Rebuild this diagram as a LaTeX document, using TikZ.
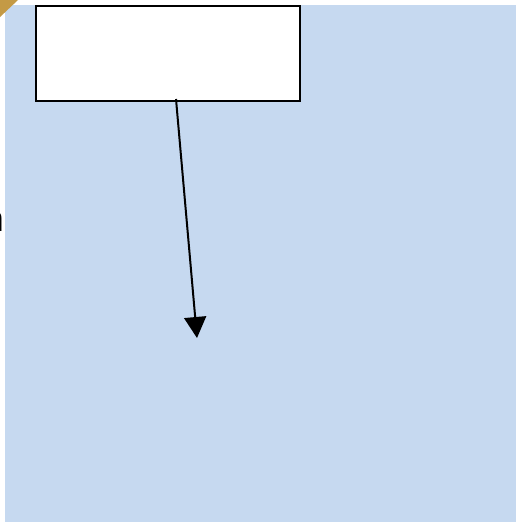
\documentclass[tikz,border=0pt]{standalone}
\usepackage{fontspec}
\setmainfont{Liberation Sans}
\usetikzlibrary{arrows.meta}
\definecolor{panelblue}{HTML}{C6D9F0}
\definecolor{cornergold}{HTML}{C49A45}
\tikzset{
  panel/.style={fill=panelblue, draw=none},
  labelbox/.style={draw=black, fill=white, line width=1.8pt, inner sep=0pt},
  flow/.style={line width=2pt, -{Triangle[width=22pt,length=21pt]}},
}
\begin{document}
\begin{tikzpicture}[x=1pt, y=-1pt]
  \useasboundingbox (0,0) rectangle (517,523);
  \fill[white] (0,0) rectangle (517,523);
  % background panel
  \fill[panel] (5,5) rectangle (516,522);
  % folded corner
  \fill[cornergold] (0,0) -- (18,0) -- (0,17) -- cycle;
  % label box at the top
  \node[labelbox, minimum width=264pt, minimum height=95pt, anchor=north west] (box) at (35,5) {};
  % arrow end point
  \coordinate (tip) at (197,338);
  \coordinate (start) at (176,99);
  \draw[flow] (start) -- (tip);
  % partly visible letter at the left edge
  \node[anchor=base east, inner sep=0pt, font=\fontsize{36}{36}\selectfont] (edge) at (4,231) {n};
\end{tikzpicture}
\end{document}
